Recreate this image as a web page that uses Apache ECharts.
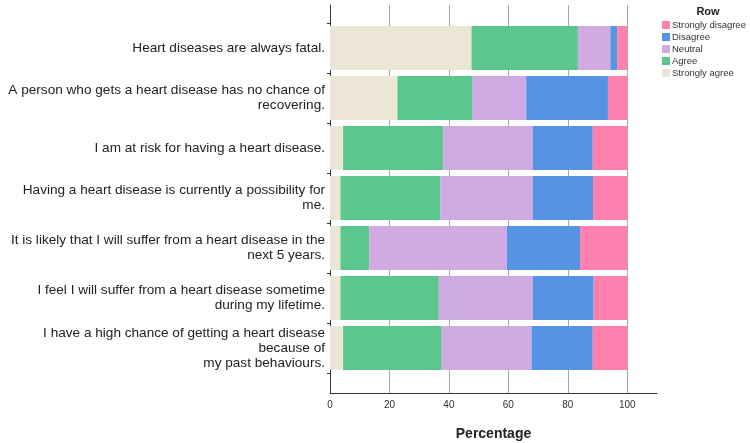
<!DOCTYPE html>
<html>
<head>
<meta charset="utf-8">
<script src="https://cdn.jsdelivr.net/npm/echarts@6/dist/echarts.min.js"></script>
<style>html,body{margin:0;padding:0;background:#fff;}#c{width:750px;height:443px;}</style>
</head>
<body>
<div id="c"></div>
<script>
const categories = [
  "Heart diseases are always fatal.",
  "A person who gets a heart disease has no chance of\nrecovering.",
  "I am at risk for having a heart disease.",
  "Having a heart disease is currently a possibility for\nme.",
  "It is likely that I will suffer from a heart disease in the\nnext 5 years.",
  "I feel I will suffer from a heart disease sometime\nduring my lifetime.",
  "I have a high chance of getting a heart disease\nbecause of\nmy past behaviours."
];
const stronglyAgree    = [47.6, 22.7, 4.4, 3.5, 3.5, 3.5, 4.4];
const agree            = [35.8, 25.3, 33.7, 33.7, 9.7, 33.1, 33.2];
const neutral          = [10.9, 18.0, 30.1, 31.0, 46.3, 31.6, 30.2];
const disagree         = [2.3, 27.5, 20.2, 20.3, 24.6, 20.5, 20.6];
const stronglyDisagree = [3.4, 6.5, 11.6, 11.5, 15.9, 11.3, 11.6];
const xTicks = [0, 20, 40, 60, 80, 100];

const font = "'Liberation Sans', Arial, sans-serif";
const colors = {
  'Strongly agree': '#ece6d6',
  'Agree': '#5bc78c',
  'Neutral': '#d0aae2',
  'Disagree': '#5694e3',
  'Strongly disagree': '#fd80ae'
};
const seriesData = [
  ['Strongly agree', stronglyAgree],
  ['Agree', agree],
  ['Neutral', neutral],
  ['Disagree', disagree],
  ['Strongly disagree', stronglyDisagree]
];

const chart = echarts.init(document.getElementById('c'), null, {renderer: 'canvas'});
chart.setOption({
  animation: false,
  backgroundColor: '#fff',
  textStyle: {fontFamily: font},
  title: {
    text: 'Row', left: 703, top: 1, textAlign: 'center',
    textStyle: {fontFamily: font, fontSize: 11, fontWeight: 'bold', color: '#222'}
  },
  legend: {
    orient: 'vertical', left: 657, top: 15,
    icon: 'rect', itemWidth: 8, itemHeight: 8, itemGap: 2,
    data: ['Strongly disagree', 'Disagree', 'Neutral', 'Agree', 'Strongly agree'],
    textStyle: {fontFamily: font, fontSize: 9.5, color: '#333', lineHeight: 10, padding: [0, 0, 0, -3]}
  },
  grid: [
    {left: 330, right: 93, top: 23, bottom: 70, outerBoundsMode: 'none', containLabel: false},
    {left: 330, right: 93, top: 5, bottom: 50, outerBoundsMode: 'none', containLabel: false}
  ],
  xAxis: [
    {gridIndex: 0, type: 'value', min: 0, max: 110, show: false, splitLine: {show: false}},
    {
      gridIndex: 1, type: 'value', min: 0, max: 110, interval: 20,
      name: 'Percentage', nameLocation: 'middle', nameGap: 34,
      nameTextStyle: {fontFamily: font, fontSize: 14, fontWeight: 'bold', color: '#222'},
      axisLine: {show: true, lineStyle: {color: '#333', width: 1}},
      axisTick: {show: false},
      axisLabel: {
        fontFamily: font, fontSize: 10, color: '#333', margin: 7, showMaxLabel: false,
        formatter: v => (xTicks.indexOf(v) >= 0 ? String(v) : '')
      },
      splitLine: {show: true, lineStyle: {color: ['#a8a8a8','#a8a8a8','#a8a8a8','#a8a8a8','#a8a8a8','#a8a8a8','rgba(0,0,0,0)'], width: 1}}
    }
  ],
  yAxis: [
    {
      gridIndex: 0, type: 'category', data: categories, inverse: true,
      axisLine: {show: false},
      axisTick: {show: true, length: 3, lineStyle: {color: '#333'}},
      axisLabel: {fontFamily: font, fontSize: 13.6, color: '#222', margin: 5, lineHeight: 15, align: 'right'},
      splitLine: {show: false}
    },
    {
      gridIndex: 1, type: 'value', min: 0, max: 1,
      axisLine: {show: true, lineStyle: {color: '#333', width: 1}},
      axisTick: {show: false}, axisLabel: {show: false}, splitLine: {show: false}
    }
  ],
  series: seriesData.map(([name, vals]) => ({
    name, type: 'bar', stack: 'total', xAxisIndex: 0, yAxisIndex: 0,
    barWidth: 44, data: vals,
    itemStyle: {color: colors[name]},
    emphasis: {disabled: true}
  }))
});
</script>
</body>
</html>
